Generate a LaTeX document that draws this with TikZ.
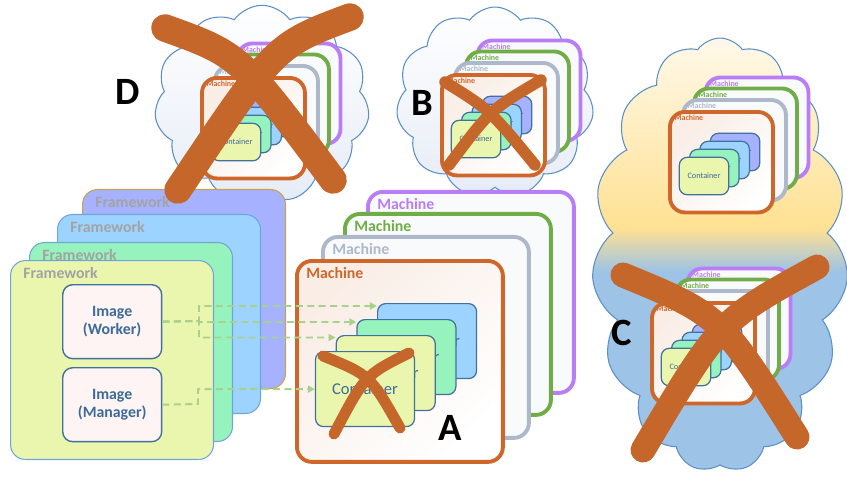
\documentclass[tikz,border=0pt]{standalone}
\usepackage{fontspec}
\setmainfont{Carlito}
\usepackage{xcolor}
\usepackage{tikz}
\usetikzlibrary{shapes,arrows.meta,positioning,calc}

\definecolor{mpurple}{HTML}{B97EF6}
\definecolor{mgreen}{HTML}{70AD47}
\definecolor{mgray}{HTML}{ADB9CA}
\definecolor{morange}{HTML}{D0672A}
\definecolor{machinefill}{HTML}{F9FAFC}
\definecolor{cpurple}{HTML}{A6B2FF}
\definecolor{cblue}{HTML}{9DD4FF}
\definecolor{cgreen}{HTML}{97F3BD}
\definecolor{cyellow}{HTML}{EAF5AE}
\definecolor{cline}{HTML}{41719C}
\definecolor{ctext}{HTML}{3D6B99}
\definecolor{imagefill}{HTML}{FDF4F3}
\definecolor{fwtext}{HTML}{A3A3A3}
\definecolor{fwgold}{HTML}{C9A24E}
\definecolor{fwline}{HTML}{6FA6DA}
\definecolor{flowgreen}{HTML}{A9D18E}
\definecolor{xbrown}{HTML}{C5672B}
\definecolor{cloudline}{HTML}{5B8FC9}
\definecolor{cloudgray}{HTML}{E6ECF6}
\definecolor{skyblue}{HTML}{9DC3E6}
\definecolor{sunny}{HTML}{FFE193}
\definecolor{paleyellow}{HTML}{FFF9EA}

\pgfdeclareverticalshading{sunset}{100bp}{color(0bp)=(skyblue); color(48bp)=(skyblue);
  color(53bp)=(sunny); color(75bp)=(paleyellow); color(100bp)=(paleyellow)}

\tikzset{
  machine/.style={draw, anchor=north west, minimum width=4.12cm, minimum height=4.02cm,
    rounded corners=0.3cm, line width=2.2pt, fill=machinefill, inner sep=0},
  frontmachine/.style={draw=morange, top color=morange!12, middle color=white,
    bottom color=white, shading angle=45},
  machinelabel/.style={anchor=west, inner sep=0, font=\bfseries\fontsize{9}{10}\selectfont},
  container/.style={draw=cline, line width=0.7pt, anchor=north west, minimum width=1.98cm,
    minimum height=1.5cm, rounded corners=0.16cm, inner sep=0, text=ctext,
    font=\fontsize{9.4}{10}\selectfont},
  framework/.style={anchor=north west, minimum width=4.06cm, minimum height=3.98cm,
    rounded corners=0.3cm, line width=0.6pt, inner sep=0},
  fwlabel/.style={anchor=west, inner sep=0, text=fwtext, font=\bfseries\fontsize{9}{10}\selectfont},
  imagebox/.style={draw=cline, fill=imagefill, line width=0.8pt, anchor=north west,
    minimum width=1.98cm, minimum height=1.48cm, rounded corners=0.2cm, align=center,
    inner sep=0, text=ctext, font=\bfseries\fontsize{9}{10.5}\selectfont},
  flow/.style={draw=flowgreen, line width=1.1pt, dash pattern=on 4pt off 2.5pt,
    -{Triangle[length=4pt,width=4pt]}},
  strike/.style={draw=xbrown, line cap=round},
  skycloud/.style={cloud, cloud puffs=11, cloud puff arc=110, cloud ignores aspect,
    draw=cloudline, line width=0.6pt, top color=white, bottom color=cloudgray, inner sep=0},
  letter/.style={inner sep=0, font=\bfseries\fontsize{22}{24}\selectfont}
}

% a host: four machines, the front one holding four containers
% #1 name, #2 front machine corner, #3 scale, #4 container colours
\newcommand{\machinestack}[4]{%
  \begin{scope}[shift={#2}, scale=#3, transform shape]
    \foreach \mx/\my/\mc [count=\i] in {71/-69/mpurple, 48/-47/mgreen, 26/-24/mgray} {
      \node[machine, draw=\mc] (#1-m\i) at (\mx,\my) {};
      \node[machinelabel, text=\mc] (#1-l\i) at (\mx+11,\my+14) {Machine};
    }
    \node[machine, frontmachine] (#1-m4) at (0,0) {};
    \node[machinelabel, text=morange] (#1-l4) at (11,14) {Machine};
    % containers, back to front
    \foreach \cc [count=\j] in {#4} {
      \pgfmathsetmacro\cx{82-20.7*(\j-1)}
      \pgfmathsetmacro\cy{44+16*(\j-1)}
      \node[container, fill=\cc] (#1-c\j) at (\cx,\cy) {Container};
    }
  \end{scope}}

\begin{document}
\begin{tikzpicture}[x=0.02cm, y=-0.02cm]
    \useasboundingbox (0,0) rectangle (847,479);

    % clouds
    \node[skycloud, minimum width=4.3cm, minimum height=3.95cm] (cloud-d) at (262,104) {};
    \node[skycloud, minimum width=3.95cm, minimum height=3.8cm] (cloud-b) at (495,102) {};
    \node[skycloud, cloud puffs=15, shade, shading=sunset,
          minimum width=5.12cm, minimum height=8.68cm] (cloud-c) at (720,255) {};

    % hosts in the clouds
    \machinestack{d}{(201,77)}{0.5}{cpurple,cblue,cgreen,cyellow}
    \machinestack{b}{(441,74)}{0.5}{cpurple,cblue,cgreen,cyellow}
    \machinestack{ct}{(669,111)}{0.5}{cpurple,cblue,cgreen,cyellow}
    \machinestack{cb}{(651,302)}{0.5}{cpurple,cblue,cgreen,cyellow}

    % frameworks
    \foreach \fx/\fy/\fc/\fd [count=\i] in {82/189/cpurple/fwgold, 57/214/cblue/fwline,
                                            29/242/cgreen/fwline, 10/260/cyellow/fwline} {
        \node[framework, fill=\fc, draw=\fd] (fw\i) at (\fx,\fy) {};
        \node[fwlabel] (fw\i-label) at (\fx+13,\fy+13) {Framework};
    }
    \node[imagebox] (img-w) at (62,284) {Image\\(Worker)};
    \node[imagebox] (img-m) at (62,367) {Image\\(Manager)};

    % local host
    \machinestack{a}{(295,259)}{1}{cblue,cgreen,cyellow,cyellow}

    % images started as containers
    \coordinate (w-fork) at (199,321);
    \coordinate (m-fork) at (198,404);
    \draw[flow] (img-w.east) -- (w-fork) |- ([yshift=-0.06cm]a-c1.north west);
    \draw[flow] (img-w.east) -- (w-fork) |- ([yshift=-0.06cm]a-c2.north west);
    \draw[flow] (img-w.east) -- (w-fork) |- ([yshift=-0.05cm]a-c3.north west);
    \draw[flow] (img-m.east) -- (m-fork) |- (a-c4.west);

    % crossed out
    \draw[strike, line width=0.55cm] (165,28) .. controls (240,55) .. (333,180);
    \draw[strike, line width=0.55cm] (350,17) .. controls (275,45) .. (178,190);
    \draw[strike, line width=0.23cm] (445,82) .. controls (490,110) .. (535,165);
    \draw[strike, line width=0.23cm] (541,80) .. controls (490,110) .. (449,165);
    \draw[strike, line width=0.22cm] (323,356) .. controls (370,375) .. (400,428);
    \draw[strike, line width=0.22cm] (409,353) .. controls (365,375) .. (334,434);
    \draw[strike, line width=0.5cm] (623,275) .. controls (720,315) .. (797,437);
    \draw[strike, line width=0.5cm] (817,267) .. controls (720,320) .. (643,450);

    % labels
    \node[letter] (tag-a) at (450,428) {A};
    \node[letter] (tag-b) at (422,103) {B};
    \node[letter] (tag-c) at (622,333) {C};
    \node[letter] (tag-d) at (128,92) {D};
\end{tikzpicture}
\end{document}
